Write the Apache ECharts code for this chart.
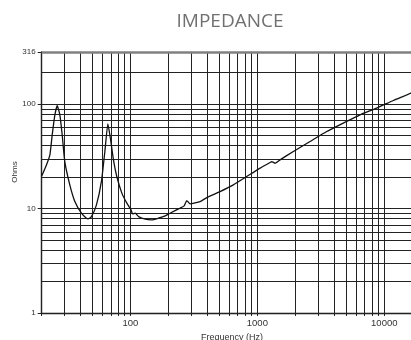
<!DOCTYPE html>
<html>
<head>
<meta charset="utf-8">
<script src="https://cdn.jsdelivr.net/npm/echarts@6/dist/echarts.min.js"></script>
<style>
  html, body { margin: 0; padding: 0; background: #fff; }
  #chart { width: 411px; height: 340px; }
</style>
</head>
<body>
<div id="chart"></div>
<script>
// Impedance magnitude vs frequency (log-log)
const freqHz = [20, 21.8, 23.2, 24.2, 25.4, 26.5, 27.8, 29.0, 30.4, 33.3, 36.5, 41.1, 45.0, 46.4, 49.3,
  54.0, 59.1, 62.9, 66.4, 69.2, 73.5, 78.1, 85.6, 93.7, 101, 104, 109, 116, 131, 147, 166, 188, 205,
  246, 265, 278, 295, 354, 400, 508, 647, 825, 1050, 1259, 1298, 1379, 1509, 1921, 2600, 3520, 4755,
  6437, 8710, 11776, 16220, 20000];
const ohms = [20.5, 26.2, 32.7, 50.9, 79.1, 96.6, 79.1, 50.9, 28.2, 16.9, 11.7, 9.03, 8.09, 7.97, 8.38,
  10.85, 18.2, 35.2, 64.9, 49.0, 29.3, 20.3, 14.06, 11.27, 9.72, 8.90, 9.03, 8.38, 7.91, 7.79, 8.09, 8.51, 9.03,
  10.09, 10.61, 11.93, 11.09, 11.67, 12.75, 14.55, 16.88, 20.3, 24.4, 27.6, 28.2, 27.2, 29.3, 35.2, 43.9, 54.7, 65.9,
  79.1, 91.8, 108.5, 127.8, 145];

// Grid lines and tick labels
const xGridValues = [20, 30, 40, 50, 60, 70, 80, 90, 100, 200, 300, 400, 500, 600, 700, 800, 900,
  1000, 2000, 3000, 4000, 5000, 6000, 7000, 8000, 9000, 10000, 20000];
const yGridValues = [1, 2, 3, 4, 5, 6, 7, 8, 9, 10, 20, 30, 40, 50, 60, 70, 80, 90, 100, 200];
const xTickLabels = [100, 1000, 10000];
const yTickLabels = [1, 10, 100, 316];

const FONT = "'Liberation Sans', Arial, sans-serif";
const chart = echarts.init(document.getElementById('chart'), null, { renderer: 'canvas' });

const near = (v, list) => list.some(t => Math.abs(v - t) / t < 1e-3);

chart.setOption({
  animation: false,
  backgroundColor: '#fff',
  grid: { left: 41.7, top: 52, bottom: 27, right: -11.5, containLabel: false, outerBoundsMode: 'none' },
  graphic: [
    {
      type: 'text', x: 230, y: 22,
      style: { text: 'IMPEDANCE', font: "19px 'Open Sans', sans-serif", fill: '#707070',
               textAlign: 'center', textVerticalAlign: 'middle' }
    },
    {
      type: 'text', x: 15, y: 172, rotation: Math.PI / 2,
      style: { text: 'Ohms', font: "8px " + FONT, fill: '#333',
               textAlign: 'center', textVerticalAlign: 'middle' }
    }
  ],
  xAxis: {
    type: 'log', logBase: 10, min: 20, max: 20000,
    name: 'Frequency (Hz)', nameLocation: 'middle', nameGap: 16,
    nameTextStyle: { fontFamily: FONT, fontSize: 9, color: '#333' },
    axisLine: { show: true, lineStyle: { color: '#111', width: 1.4 } },
    axisTick: { show: true, length: 3, customValues: xGridValues, lineStyle: { color: '#222' } },
    axisLabel: {
      fontFamily: FONT, fontSize: 9.5, color: '#333', margin: 5,
      customValues: xTickLabels,
      formatter: v => near(v, xTickLabels) ? String(Math.round(v)) : ''
    },
    splitLine: { show: false }
  },
  yAxis: {
    type: 'log', logBase: 10, min: 1, max: 316,
    axisLine: { show: true, lineStyle: { color: '#111', width: 1.4 } },
    axisTick: { show: true, length: 4, customValues: yTickLabels, lineStyle: { color: '#222' } },
    axisLabel: {
      fontFamily: FONT, fontSize: 8, color: '#333', margin: 6,
      customValues: yTickLabels,
      showMinLabel: true, showMaxLabel: true,
      formatter: v => near(v, yTickLabels) ? String(Math.round(v)) : ''
    },
    splitLine: { show: false }
  },
  series: [
    {
      // grid lines
      type: 'line', data: [], silent: true,
      markLine: {
        silent: true, symbol: ['none', 'none'], label: { show: false },
        animation: false,
        lineStyle: { color: '#222', width: 1, type: 'solid' },
        emphasis: { disabled: true },
        data: xGridValues.map(v => ({ xAxis: v }))
          .concat(yGridValues.map(v => ({ yAxis: v })))
          .concat([{ yAxis: 316, lineStyle: { color: '#808080', width: 2.5 } }])
      }
    },
    {
      type: 'line',
      data: freqHz.map((f, i) => [f, ohms[i]]),
      showSymbol: false, symbol: 'none', smooth: 0.15,
      lineStyle: { color: '#111', width: 1.3 },
      z: 5
    }
  ]
});
</script>
</body>
</html>
